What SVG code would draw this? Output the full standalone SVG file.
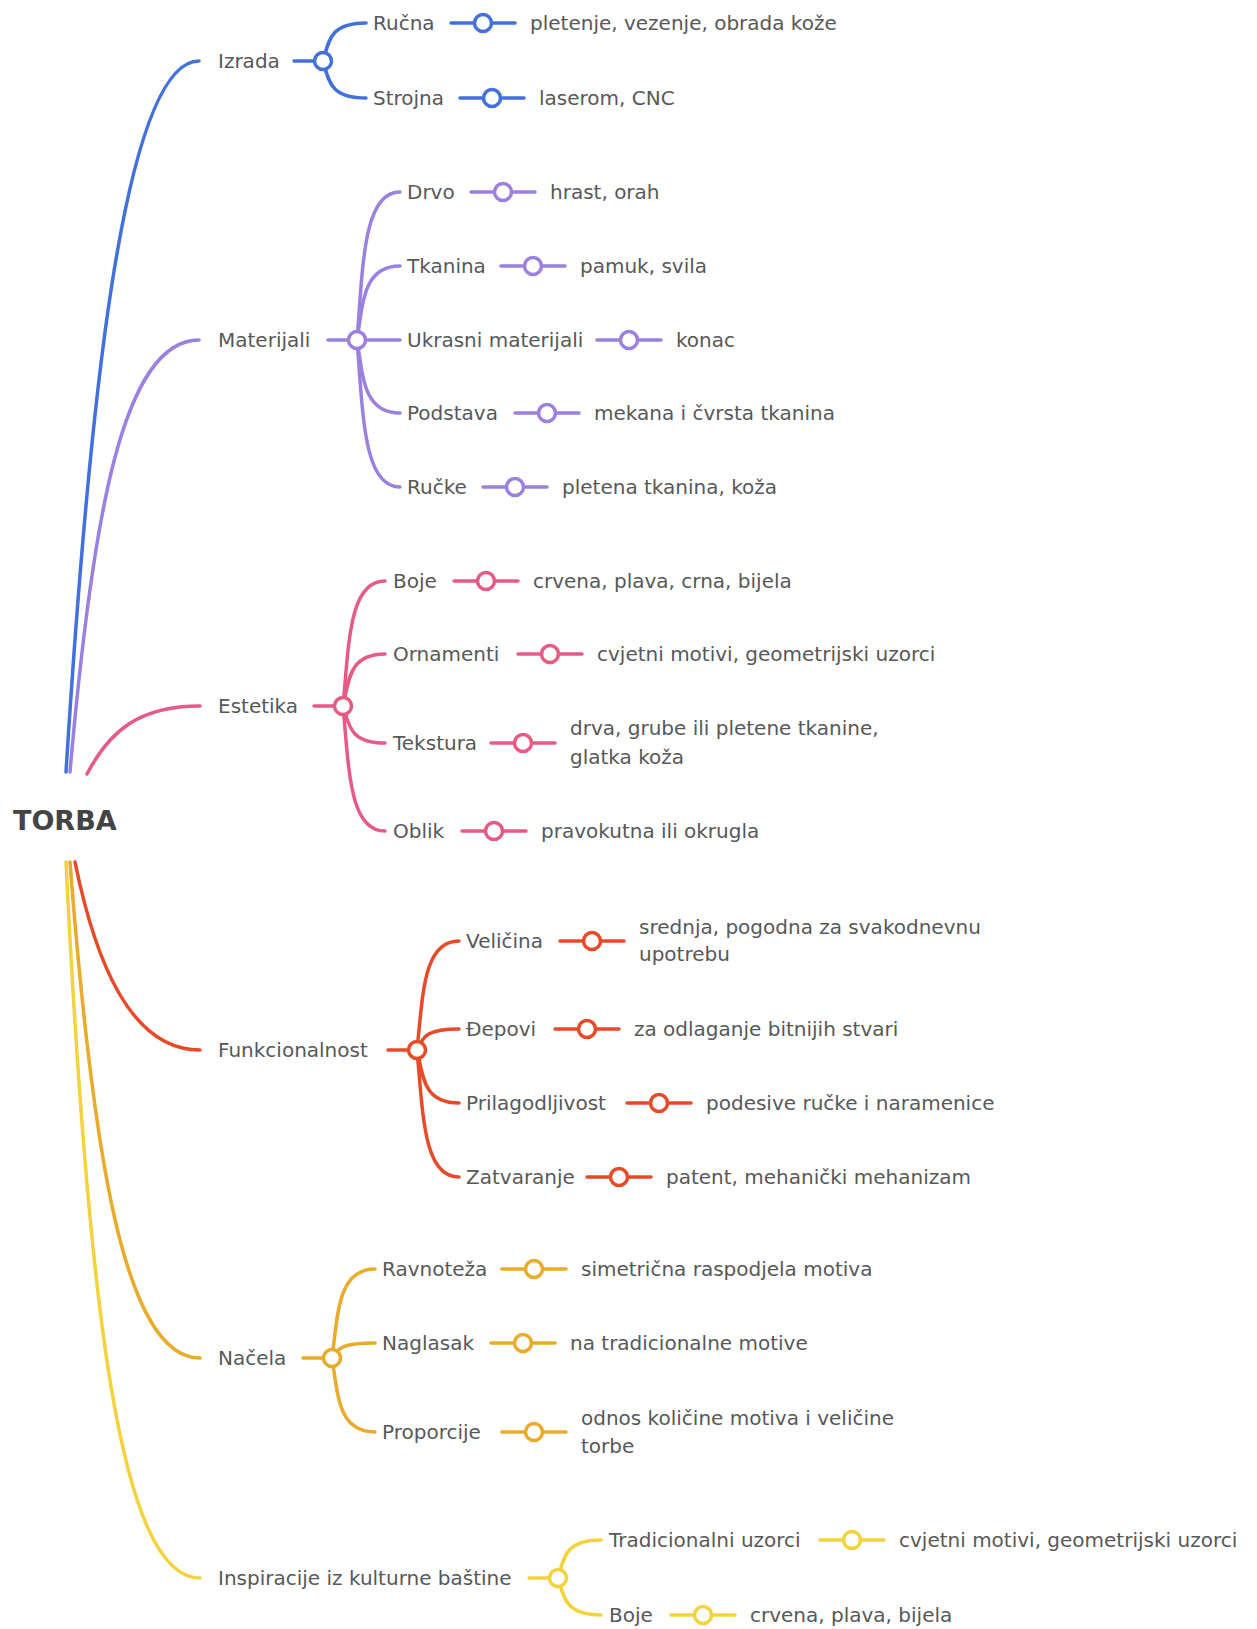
<svg xmlns="http://www.w3.org/2000/svg" width="1257" height="1629" viewBox="0 0 1257 1629">
<style>
text{font-family:"DejaVu Sans","Liberation Sans",sans-serif;font-size:20px;fill:#585858}
.root{font-size:27px;font-weight:bold;fill:#444}
path,line{fill:none;stroke-width:3.5;stroke-linecap:round}
.trunk{stroke-width:3.5}
circle{fill:#fff;stroke-width:3.5}
.bl{stroke:#4270dd}.pu{stroke:#9b80e2}.pk{stroke:#e65a85}.rd{stroke:#e84a28}.or{stroke:#eaaa2a}.ye{stroke:#f3d23c}
</style>
<rect width="1257" height="1629" fill="#fff"/>
<g id="connectors">
<path class="trunk bl" d="M66,772 C88,420 122,61 199,61"/>
<path class="trunk pu" d="M70,772 C92,520 122,340 199,340"/>
<path class="trunk pk" d="M87,774 C110,730 140,706 200,706"/>
<path class="trunk rd" d="M75,862 C95,960 130,1050 200,1050"/>
<path class="trunk or" d="M70,862 C93,1160 125,1358 200,1358"/>
<path class="trunk ye" d="M66,862 C88,1310 120,1578 200,1578"/>
<g class="bl">
<line x1="294" y1="61" x2="323" y2="61"/>
<path d="M323,61 C329,42 329,23 366,23"/>
<path d="M323,61 C329,80 329,98 366,98"/>
<line x1="451" y1="23" x2="515" y2="23"/>
<line x1="460" y1="98" x2="524" y2="98"/>
<circle cx="323" cy="61" r="8.5"/><circle cx="483" cy="23" r="8.5"/><circle cx="492" cy="98" r="8.5"/>
</g>
<g class="pu">
<line x1="328" y1="340" x2="357" y2="340"/>
<path d="M357,340 C363,266 363,192 400,192"/>
<path d="M357,340 C363,303 363,266 400,266"/>
<path d="M357,340 L400,340"/>
<path d="M357,340 C363,376 363,413 400,413"/>
<path d="M357,340 C363,413 363,487 400,487"/>
<line x1="471" y1="192" x2="535" y2="192"/>
<line x1="501" y1="266" x2="565" y2="266"/>
<line x1="597" y1="340" x2="661" y2="340"/>
<line x1="515" y1="413" x2="579" y2="413"/>
<line x1="483" y1="487" x2="547" y2="487"/>
<circle cx="357" cy="340" r="8.5"/><circle cx="503" cy="192" r="8.5"/><circle cx="533" cy="266" r="8.5"/><circle cx="629" cy="340" r="8.5"/><circle cx="547" cy="413" r="8.5"/><circle cx="515" cy="487" r="8.5"/>
</g>
<g class="pk">
<line x1="314" y1="706" x2="343" y2="706"/>
<path d="M343,706 C349,643 349,581 385,581"/>
<path d="M343,706 C349,680 349,654 385,654"/>
<path d="M343,706 C349,724 349,743 385,743"/>
<path d="M343,706 C349,768 349,831 385,831"/>
<line x1="454" y1="581" x2="518" y2="581"/>
<line x1="518" y1="654" x2="582" y2="654"/>
<line x1="491" y1="743" x2="555" y2="743"/>
<line x1="462" y1="831" x2="526" y2="831"/>
<circle cx="343" cy="706" r="8.5"/><circle cx="486" cy="581" r="8.5"/><circle cx="550" cy="654" r="8.5"/><circle cx="523" cy="743" r="8.5"/><circle cx="494" cy="831" r="8.5"/>
</g>
<g class="rd">
<line x1="388" y1="1050" x2="417" y2="1050"/>
<path d="M417,1050 C423,995 423,941 459,941"/>
<path d="M417,1050 C423,1039 423,1029 459,1029"/>
<path d="M417,1050 C423,1076 423,1103 459,1103"/>
<path d="M417,1050 C423,1113 423,1177 459,1177"/>
<line x1="560" y1="941" x2="624" y2="941"/>
<line x1="555" y1="1029" x2="619" y2="1029"/>
<line x1="627" y1="1103" x2="691" y2="1103"/>
<line x1="587" y1="1177" x2="651" y2="1177"/>
<circle cx="417" cy="1050" r="8.5"/><circle cx="592" cy="941" r="8.5"/><circle cx="587" cy="1029" r="8.5"/><circle cx="659" cy="1103" r="8.5"/><circle cx="619" cy="1177" r="8.5"/>
</g>
<g class="or">
<line x1="303" y1="1358" x2="332" y2="1358"/>
<path d="M332,1358 C338,1313 338,1269 375,1269"/>
<path d="M332,1358 C338,1350 338,1343 375,1343"/>
<path d="M332,1358 C338,1395 338,1432 375,1432"/>
<line x1="502" y1="1269" x2="566" y2="1269"/>
<line x1="491" y1="1343" x2="555" y2="1343"/>
<line x1="502" y1="1432" x2="566" y2="1432"/>
<circle cx="332" cy="1358" r="8.5"/><circle cx="534" cy="1269" r="8.5"/><circle cx="523" cy="1343" r="8.5"/><circle cx="534" cy="1432" r="8.5"/>
</g>
<g class="ye">
<line x1="529" y1="1578" x2="558" y2="1578"/>
<path d="M558,1578 C564,1559 564,1540 601,1540"/>
<path d="M558,1578 C564,1596 564,1615 601,1615"/>
<line x1="820" y1="1540" x2="884" y2="1540"/>
<line x1="671" y1="1615" x2="735" y2="1615"/>
<circle cx="558" cy="1578" r="8.5"/><circle cx="852" cy="1540" r="8.5"/><circle cx="703" cy="1615" r="8.5"/>
</g>
</g>
<g id="node-torba"><text class="root" x="13" y="830">TORBA</text></g>
<g id="node-izrada"><text x="218" y="68">Izrada</text></g>
<g id="node-rucna"><text x="373" y="30">Ručna</text><text x="530" y="30">pletenje, vezenje, obrada kože</text></g>
<g id="node-strojna"><text x="373" y="105">Strojna</text><text x="539" y="105">laserom, CNC</text></g>
<g id="node-materijali"><text x="218" y="347">Materijali</text></g>
<g id="node-drvo"><text x="407" y="199">Drvo</text><text x="550" y="199">hrast, orah</text></g>
<g id="node-tkanina"><text x="407" y="273">Tkanina</text><text x="580" y="273">pamuk, svila</text></g>
<g id="node-ukrasni"><text x="407" y="347">Ukrasni materijali</text><text x="676" y="347">konac</text></g>
<g id="node-podstava"><text x="407" y="420">Podstava</text><text x="594" y="420">mekana i čvrsta tkanina</text></g>
<g id="node-rucke"><text x="407" y="494">Ručke</text><text x="562" y="494">pletena tkanina, koža</text></g>
<g id="node-estetika"><text x="218" y="713">Estetika</text></g>
<g id="node-boje"><text x="393" y="588">Boje</text><text x="533" y="588">crvena, plava, crna, bijela</text></g>
<g id="node-ornamenti"><text x="393" y="661">Ornamenti</text><text x="597" y="661">cvjetni motivi, geometrijski uzorci</text></g>
<g id="node-tekstura"><text x="393" y="750">Tekstura</text><text x="570" y="735">drva, grube ili pletene tkanine,</text><text x="570" y="764">glatka koža</text></g>
<g id="node-oblik"><text x="393" y="838">Oblik</text><text x="541" y="838">pravokutna ili okrugla</text></g>
<g id="node-funkcionalnost"><text x="218" y="1057">Funkcionalnost</text></g>
<g id="node-velicina"><text x="466" y="948">Veličina</text><text x="639" y="934">srednja, pogodna za svakodnevnu</text><text x="639" y="961">upotrebu</text></g>
<g id="node-depovi"><text x="466" y="1036">Đepovi</text><text x="634" y="1036">za odlaganje bitnijih stvari</text></g>
<g id="node-prilagodljivost"><text x="466" y="1110">Prilagodljivost</text><text x="706" y="1110">podesive ručke i naramenice</text></g>
<g id="node-zatvaranje"><text x="466" y="1184">Zatvaranje</text><text x="666" y="1184">patent, mehanički mehanizam</text></g>
<g id="node-nacela"><text x="218" y="1365">Načela</text></g>
<g id="node-ravnoteza"><text x="382" y="1276">Ravnoteža</text><text x="581" y="1276">simetrična raspodjela motiva</text></g>
<g id="node-naglasak"><text x="382" y="1350">Naglasak</text><text x="570" y="1350">na tradicionalne motive</text></g>
<g id="node-proporcije"><text x="382" y="1439">Proporcije</text><text x="581" y="1425">odnos količine motiva i veličine</text><text x="581" y="1453">torbe</text></g>
<g id="node-inspiracije"><text x="218" y="1585">Inspiracije iz kulturne baštine</text></g>
<g id="node-tradicionalni"><text x="609" y="1547">Tradicionalni uzorci</text><text x="899" y="1547">cvjetni motivi, geometrijski uzorci</text></g>
<g id="node-boje2"><text x="609" y="1622">Boje</text><text x="750" y="1622">crvena, plava, bijela</text></g>
</svg>
